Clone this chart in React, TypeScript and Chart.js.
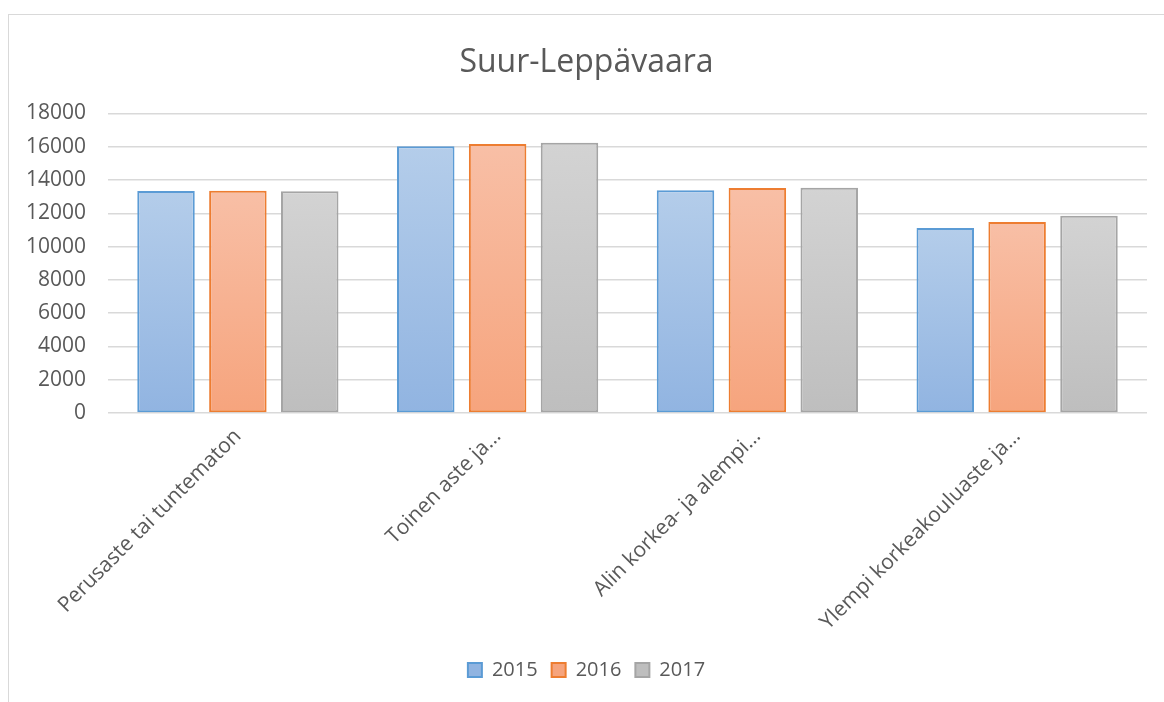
import React, { useEffect, useRef } from "react";
import { Chart, registerables } from "chart.js";

Chart.register(...registerables);

const categories = [
  "Perusaste tai tuntematon",
  "Toinen aste ja…",
  "Alin korkea- ja alempi…",
  "Ylempi korkeakouluaste ja…",
];
const seriesNames = ["2015", "2016", "2017"];
const values2015 = [13340, 16020, 13380, 11120];
const values2016 = [13360, 16160, 13520, 11480];
const values2017 = [13320, 16240, 13530, 11860];
const yTicks = [0, 2000, 4000, 6000, 8000, 10000, 12000, 14000, 16000, 18000];

const FONT = "'Open Sans', sans-serif";
const TEXT = "#595959";

const styles = [
  { top: "#B4CDEA", bottom: "#91B4E1", solid: "#A3C1E6", border: "#5B9BD5" },
  { top: "#F8BFA6", bottom: "#F6A47D", solid: "#F7B293", border: "#ED7D31" },
  { top: "#D3D3D3", bottom: "#BEBEBE", solid: "#C9C9C9", border: "#A5A5A5" },
];

export default function App() {
  const ref = useRef<HTMLCanvasElement | null>(null);

  useEffect(() => {
    if (!ref.current) return;
    const all = [values2015, values2016, values2017];
    const chart = new Chart(ref.current, {
      type: "bar",
      data: {
        labels: categories,
        datasets: all.map((vals, i) => ({
          label: seriesNames[i],
          data: vals,
          borderColor: styles[i].border,
          borderWidth: 2,
          borderSkipped: false,
          categoryPercentage: 0.83,
          barPercentage: 0.8,
          backgroundColor: (ctx: any) => {
            const s = styles[i];
            if (ctx.type !== "data") return s.solid;
            const chart = ctx.chart;
            const ys = chart.scales?.y;
            if (!chart.chartArea || !ys) return s.solid;
            const top = ys.getPixelForValue(ctx.raw);
            const bottom = ys.getPixelForValue(0);
            if (!isFinite(top) || !isFinite(bottom) || top === bottom) return s.solid;
            const g = chart.ctx.createLinearGradient(0, top, 0, bottom);
            g.addColorStop(0, s.top);
            g.addColorStop(1, s.bottom);
            return g;
          },
        })),
      },
      options: {
        animation: false,
        responsive: false,
        maintainAspectRatio: false,
        layout: { padding: { top: 44, left: 26, right: 17, bottom: 12 } },
        plugins: {
          title: {
            display: true,
            text: "Suur-Leppävaara",
            color: TEXT,
            font: { family: FONT, size: 32, weight: "normal" },
            padding: { top: 0, bottom: 31 },
          },
          legend: {
            position: "bottom",
            labels: {
              color: TEXT,
              font: { family: FONT, size: 20 },
              boxWidth: 14,
              boxHeight: 14,
              padding: 14,
            },
          },
          tooltip: { enabled: false },
        },
        scales: {
          x: {
            grid: { display: false },
            border: { display: false },
            afterFit: (s: any) => {
              s.paddingLeft = 0;
              s.paddingRight = 0;
              s.height += 8;
            },
            ticks: {
              color: TEXT,
              font: { family: FONT, size: 21 },
              minRotation: 45,
              maxRotation: 45,
              autoSkip: false,
              padding: 3,
            },
          },
          y: {
            min: 0,
            max: 18000,
            afterBuildTicks: (axis: any) => {
              axis.ticks = yTicks.map((v) => ({ value: v }));
            },
            afterFit: (s: any) => {
              s.width = 82;
            },
            grid: { color: "#D9D9D9", lineWidth: 1.5, drawTicks: false },
            border: { display: false },
            ticks: {
              color: TEXT,
              font: { family: FONT, size: 21 },
              padding: 22,
              callback: (v: any) => String(v),
            },
          },
        },
      },
    });
    return () => chart.destroy();
  }, []);

  return (
    <div
      style={{
        position: "absolute",
        left: 0,
        top: 0,
        width: 1164,
        height: 702,
        overflow: "hidden",
        background: "#fff",
      }}
    >
      <div
        style={{
          position: "absolute",
          left: 8,
          top: 14,
          width: 1200,
          height: 800,
          border: "1px solid #D9D9D9",
          boxSizing: "border-box",
        }}
      />
      <canvas
        ref={ref}
        width={1164}
        height={702}
        style={{ position: "absolute", left: 0, top: 0, width: 1164, height: 702 }}
      />
    </div>
  );
}
